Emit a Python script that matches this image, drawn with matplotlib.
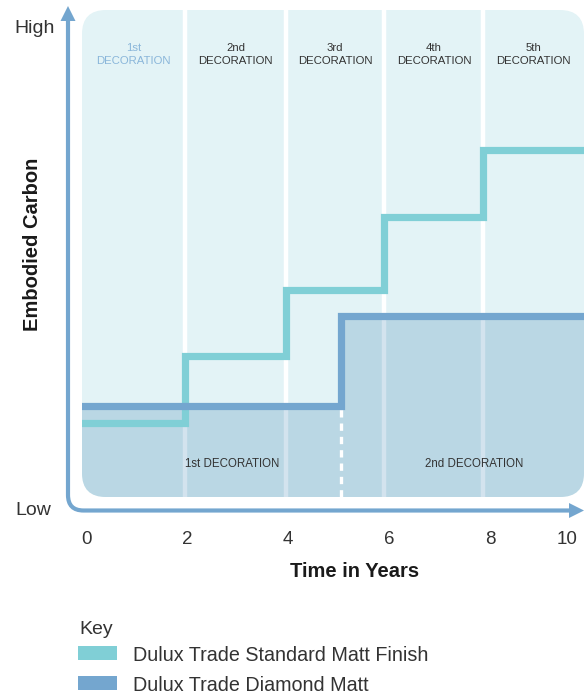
import matplotlib
matplotlib.use("Agg")
import numpy as np
import matplotlib.pyplot as plt
from matplotlib.patches import FancyBboxPatch, Rectangle, Polygon, PathPatch
from matplotlib.path import Path
import matplotlib.transforms as mtransforms

# --- DATA ---
DECORATION_YEARS = [1.97, 3.96, 5.91, 7.87]          # repaint points (panel dividers)
DECORATION_LABELS = ["1st", "2nd", "3rd", "4th", "5th"]
STANDARD_LEVELS = [15.1, 29.0, 42.5, 57.5, 71.3]     # embodied carbon, arbitrary units
DIAMOND_YEARS = [5.05]
DIAMOND_LEVELS = [18.6, 37.2]
DIAMOND_SPAN_LABELS = ["1st DECORATION", "2nd DECORATION"]
X_TICKS = [0, 2, 4, 6, 8, 10]
KEY_LABELS = ["Dulux Trade Standard Matt Finish", "Dulux Trade Diamond Matt"]

# --- STYLE ---
TEAL = "#80cfd6"
BLUE = "#74a6cf"
PANEL = "#e3f3f6"
DARK = "#bad7e4"
DARK_GAP = "#d3e3ee"
TXT = "#333333"
plt.rcParams["font.family"] = ["Liberation Sans", "DejaVu Sans"]

# x scale: year 0 at px 86, 50.5 px per year; panel spans px 82..584
X0, X1 = (82 - 86) / 50.5, (584 - 86) / 50.5

fig = plt.figure(figsize=(5.84, 6.95), dpi=100)
bg = fig.add_axes([0, 0, 1, 1])
bg.set_xlim(0, 584)
bg.set_ylim(695, 0)
bg.axis("off")

# rounded panel background
panel = FancyBboxPatch((82, 10), 502, 487, boxstyle="round,pad=0,rounding_size=24",
                       fc=PANEL, ec="none", zorder=1)
bg.add_patch(panel)

ax = fig.add_axes([82 / 584, (695 - 497) / 695, 502 / 584, 487 / 695])
ax.set_xlim(X0, X1)
ax.set_ylim(0, 100)
ax.axis("off")
ax.patch.set_alpha(0)

# step series
std_x = [X0] + DECORATION_YEARS + [X1]
std_y = STANDARD_LEVELS + [STANDARD_LEVELS[-1]]
dia_x = [X0] + DIAMOND_YEARS + [X1]
dia_y = DIAMOND_LEVELS + [DIAMOND_LEVELS[-1]]

# panel dividers (white on light part)
for yr in DECORATION_YEARS:
    ax.axvline(yr, color="white", lw=3.2, zorder=1)

# dark area under the diamond line
fill = ax.fill_between(dia_x, 0, dia_y, step="post", color=DARK, lw=0, zorder=2)
fill.set_clip_path(panel)

# lighter dividers inside the dark area
for yr in DECORATION_YEARS:
    lvl = dia_y[np.searchsorted(dia_x, yr, side="right") - 1]
    ln, = ax.plot([yr, yr], [0, lvl], color=DARK_GAP, lw=3.2, zorder=3, solid_capstyle="butt")
    ln.set_clip_path(panel)

# white dashed line at the diamond repaint
ax.plot([DIAMOND_YEARS[0]] * 2, [0, DIAMOND_LEVELS[0]], color="white", lw=2.4,
        ls=(0, (2.2, 1.8)), zorder=4)

ax.step(std_x, std_y, where="post", color=TEAL, lw=5.2, zorder=5, solid_joinstyle="miter")
ax.step(dia_x, dia_y, where="post", color=BLUE, lw=5.2, zorder=6, solid_joinstyle="miter")

# decoration labels at top
edges = [X0] + DECORATION_YEARS + [X1]
for i, lab in enumerate(DECORATION_LABELS):
    xc = (edges[i] + edges[i + 1]) / 2
    ax.text(xc, 90.8, f"{lab}\nDECORATION", ha="center", va="center", fontsize=8.2,
            color="#8ab6da" if i == 0 else TXT, linespacing=1.42, zorder=7)

# labels inside the dark area
ax.text(2.89, 6.8, DIAMOND_SPAN_LABELS[0], ha="center", va="center", fontsize=8.3, color=TXT, zorder=7)
ax.text(7.68, 6.8, DIAMOND_SPAN_LABELS[1], ha="center", va="center", fontsize=8.3, color=TXT, zorder=7)

# axes arrows (pixel coords)
verts = [(68, 20), (68, 495), (68, 510.5), (83.5, 510.5), (571, 510.5)]
codes = [Path.MOVETO, Path.LINETO, Path.CURVE3, Path.CURVE3, Path.LINETO]
bg.add_patch(PathPatch(Path(verts, codes), fc="none", ec=BLUE, lw=3, zorder=2))
bg.add_patch(Polygon([(60.5, 21), (75.5, 21), (68, 6)], fc=BLUE, ec="none", zorder=2))
bg.add_patch(Polygon([(569, 503), (569, 518), (584, 510.5)], fc=BLUE, ec="none", zorder=2))

# tick labels
trans = mtransforms.blended_transform_factory(ax.transData, bg.transData)
for t in X_TICKS:
    if t <= X1:
        bg.text(t, 544, str(t), transform=trans, ha="center", va="baseline", fontsize=13.5, color=TXT)
    else:
        bg.text(577, 544, str(t), ha="right", va="baseline", fontsize=13.5, color=TXT)

bg.text(14, 33, "High", ha="left", va="baseline", fontsize=14, color=TXT)
bg.text(15, 515, "Low", ha="left", va="baseline", fontsize=14, color=TXT)
bg.text(33, 244, "Embodied Carbon", rotation=90, ha="center", va="center",
        fontsize=14.5, fontweight="bold", color="#1a1a1a")
bg.text(355, 577, "Time in Years", ha="center", va="baseline",
        fontsize=14.5, fontweight="bold", color="#1a1a1a")

# key
bg.text(79, 634, "Key", ha="left", va="baseline", fontsize=14, color=TXT)
for i, (lab, col) in enumerate(zip(KEY_LABELS, [TEAL, BLUE])):
    y0 = 646 + 30 * i
    bg.add_patch(Rectangle((78, y0), 39, 14, fc=col, ec="none"))
    bg.text(133, y0 + 15, lab, ha="left", va="baseline", fontsize=14.2, color=TXT)

fig.savefig("out.png", dpi=100)
